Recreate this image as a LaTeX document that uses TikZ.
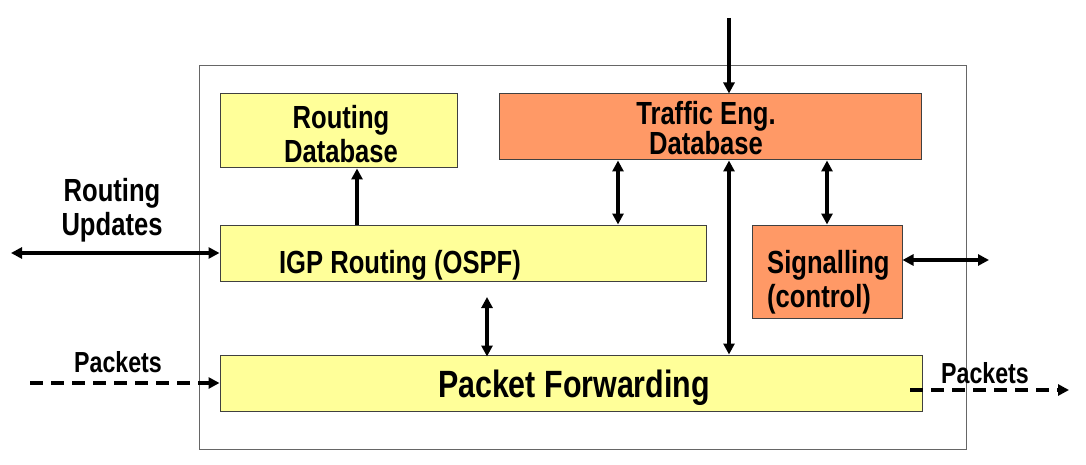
\documentclass[tikz,border=0pt]{standalone}
\usepackage{fontspec}
\setmainfont{Liberation Sans}[FakeStretch=0.8]
\usetikzlibrary{arrows.meta}
\definecolor{boxyellow}{HTML}{FFFF99}
\definecolor{boxorange}{HTML}{FF9966}
\definecolor{edgegray}{HTML}{404040}
\tikzset{
  blk/.style={draw=edgegray, line width=1pt, rectangle, inner sep=0pt},
  ybox/.style={blk, fill=boxyellow},
  obox/.style={blk, fill=boxorange},
  lbl/.style={font=\bfseries\fontsize{32}{34}\selectfont, align=center, inner sep=0pt},
  conn/.style={line width=3.4pt, {Triangle[length=11pt,width=11pt]}-{Triangle[length=11pt,width=11pt]}},
  conn1/.style={line width=3.4pt, -{Triangle[length=11pt,width=11pt]}},
  dconn/.style={line width=4pt, dash pattern=on 13pt off 8pt, -{Triangle[length=11pt,width=11pt]}}
}
\begin{document}
\begin{tikzpicture}[x=1pt,y=-1pt]
\useasboundingbox (0,0) rectangle (1086,465);
% boxes
\node[blk, draw=gray!80!black, minimum width=767pt, minimum height=383pt] (outer) at (582.5,257.5) {};
\node[ybox, minimum width=237pt, minimum height=74pt] (rdb) at (338.5,131) {};
\node[obox, minimum width=422pt, minimum height=66pt] (ted) at (710,127) {};
\node[ybox, minimum width=486pt, minimum height=56pt] (igp) at (463,253) {};
\node[obox, minimum width=150pt, minimum height=93pt] (sig) at (827,271.5) {};
\node[ybox, minimum width=702pt, minimum height=56pt] (pf) at (571,383) {};
% labels
\node[lbl] (trdb) at (341,134) {Routing\\Database};
\node[lbl, font=\bfseries\fontsize{32}{30}\selectfont] (tted) at (706,128) {Traffic Eng.\\Database};
\node[lbl] (tigp) at (400,265) {IGP Routing (OSPF)};
\node[lbl, align=left, anchor=west] (tsig) at (767,282) {Signalling\\(control)};
\node[lbl, font=\bfseries\fontsize{38}{40}\selectfont] (tpf) at (574,388) {Packet Forwarding};
\node[lbl] (tru) at (112,210) {Routing\\Updates};
\node[lbl, font=\bfseries\fontsize{29}{32}\selectfont] (tpl) at (118,362) {Packets};
\node[lbl, font=\bfseries\fontsize{29}{32}\selectfont] (tpr) at (985,373) {Packets};
% coordinates
\coordinate (tin) at (729,18);
\coordinate (xr) at (357,0);
\coordinate (xa) at (618,0);
\coordinate (xb) at (729,0);
\coordinate (xc) at (827,0);
\coordinate (ia) at (487,297);
\coordinate (sr) at (989,260);
\coordinate (ru) at (11,253);
\coordinate (pin) at (30,383);
\coordinate (pos) at (910,390);
\coordinate (pout) at (1069,390);
% connectors
\draw[conn1] (tin) -- (tin |- ted.north);
\draw[conn1] (igp.north -| xr) -- (rdb.south -| xr);
\draw[conn] (ted.south -| xa) -- (igp.north -| xa);
\draw[conn] (ted.south -| xb) -- (pf.north -| xb);
\draw[conn] (ted.south -| xc) -- (sig.north -| xc);
\draw[conn] (ia) -- ([yshift=-2pt]pf.north -| ia);
\draw[conn] (sig.east |- sr) -- (sr);
\draw[conn] (ru) -- (igp.west);
\draw[dconn] (pin) -- (pf.west);
\draw[dconn] (pos) -- (pout);
\end{tikzpicture}
\end{document}
